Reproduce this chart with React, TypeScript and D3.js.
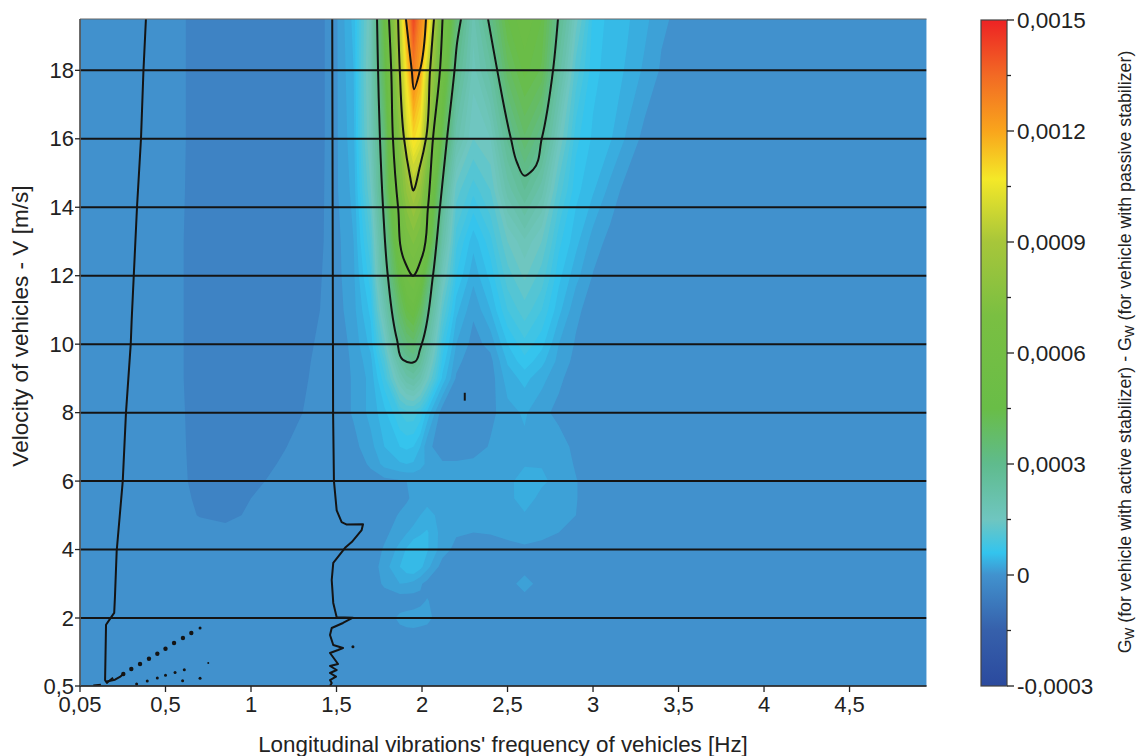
import React from "react";
import * as d3 from "d3";

// frequency columns [Hz] and velocity rows [m/s]
const freqs = [0.05,0.55,0.7,0.85,1.0,1.2,1.35,1.5,1.6,1.7,1.78,1.87,1.91,1.95,1.99,2.03,2.12,2.2,2.3,2.4,2.5,2.6,2.7,2.8,2.9,3.0,3.1,3.2,3.3,3.4,3.6,4.95];
const velocities = [19.5,18,16,14.5,13,12,11,10,9.5,9,8,7,6.5,6,5.5,5,4.5,4,3.5,3,2.5,2,1.5,1,0.5];

// Gw difference in units of 1e-4, one row per velocity
const gwGrid = [
[0,0.08,-0.42,-0.5,-0.5,-0.5,-0.42,0.08,0.45,1.7,4.6,9.5,12.2,14.3,12.8,11.7,6.0,3.6,1.9,3.1,4.5,5.0,4.5,2.9,1.5,0.65,0.5,0.42,0.3,0.13,0,0],
[0,0.08,-0.42,-0.5,-0.5,-0.5,-0.42,0.08,0.4,1.8,4.2,9.0,11,13,12,9.8,5.4,2.9,1.7,2.4,3.9,4.6,4.2,2.4,1.1,0.6,0.48,0.38,0.22,0.08,0,0],
[0,0.08,-0.42,-0.5,-0.5,-0.5,-0.42,0.08,0.35,1.7,3.5,7.5,9.9,11,10.4,8.4,4.2,2.1,1.4,1.6,2.8,3.7,3.0,1.6,0.75,0.52,0.42,0.22,0.05,0,0,0],
[0,0.05,-0.42,-0.5,-0.5,-0.5,-0.4,0.08,0.3,1.4,3.4,6.8,8.1,9,8.2,6.3,2.9,1.3,0.9,1.2,2.1,2.75,2.1,1.1,0.6,0.42,0.2,0.03,0,0,0,0],
[0,0,-0.4,-0.5,-0.5,-0.45,-0.35,0.05,0.25,1.0,2.7,5.5,6.6,7.1,6.5,5.2,2.2,0.9,0.45,0.8,1.4,1.75,1.4,0.75,0.45,0.18,0.05,0,0,0,0,0],
[0,0,-0.4,-0.5,-0.5,-0.45,-0.3,0.05,0.22,0.8,2.5,4.6,5.6,6,5.2,3.9,1.7,0.7,0.3,0.6,1.1,1.45,1.1,0.6,0.3,0.09,0,0,0,0,0,0],
[0,0,-0.4,-0.5,-0.5,-0.42,-0.25,0.03,0.2,0.6,1.9,3.8,4.5,4.8,4.1,3,1.2,0.45,0.13,0.4,0.85,1.1,0.85,0.45,0.14,0.02,0,0,0,0,0,0],
[0,0,-0.4,-0.48,-0.48,-0.38,-0.17,0,0.15,0.45,1.3,3,3.4,3.6,3.1,2.3,0.8,0.25,0.04,0.15,0.55,0.8,0.6,0.25,0.08,0,0,0,0,0,0,0],
[0,0,-0.4,-0.46,-0.46,-0.36,-0.15,0,0.13,0.35,1.0,2.3,2.8,3,2.6,1.9,0.65,0.15,0,0.05,0.42,0.65,0.45,0.2,0.05,0,0,0,0,0,0,0],
[0,0,-0.4,-0.45,-0.45,-0.35,-0.13,0,0.12,0.3,0.8,1.8,2.15,2.3,2,1.5,0.5,0.08,0,0.02,0.32,0.45,0.3,0.14,0,0,0,0,0,0,0,0],
[0,0,-0.35,-0.42,-0.4,-0.3,-0.08,0,0.12,0.3,0.5,0.85,0.95,0.95,0.8,0.5,0,0,0,0.05,0.2,0.27,0.15,0.05,0,0,0,0,0,0,0,0],
[0,0,-0.32,-0.38,-0.3,-0.16,0,0,0.05,0.2,0.4,0.55,0.58,0.55,0.4,0.15,0,0,0,0.12,0.2,0.22,0.22,0.18,0.05,0,0,0,0,0,0,0],
[0,0,-0.3,-0.36,-0.3,-0.1,0,0,0,0.13,0.3,0.38,0.4,0.38,0.3,0.22,0.12,0.12,0.15,0.2,0.22,0.24,0.24,0.2,0.08,0,0,0,0,0,0,0],
[0,0,-0.28,-0.33,-0.22,-0.05,0,0,0,0.02,0.05,0.08,0.1,0.12,0.14,0.16,0.18,0.18,0.18,0.2,0.22,0.3,0.28,0.2,0.11,0,0,0,0,0,0,0],
[0,0,-0.22,-0.3,-0.15,0,0,0,0,0,0,0.03,0.08,0.13,0.17,0.2,0.18,0.17,0.16,0.17,0.2,0.33,0.2,0.17,0.11,0,0,0,0,0,0,0],
[0,0,-0.17,-0.27,-0.08,0,0,0,0,0,0,0.12,0.15,0.18,0.25,0.3,0.2,0.15,0.14,0.15,0.16,0.23,0.18,0.14,0.1,0,0,0,0,0,0,0],
[0,0,0,0,0,0,0,0,0,0,0.06,0.18,0.24,0.3,0.38,0.42,0.18,0.12,0.1,0.11,0.14,0.17,0.15,0.1,0.03,0,0,0,0,0,0,0],
[0,0,0,0,0,0,0,0,0,0,0.12,0.3,0.42,0.55,0.5,0.42,0.17,0.05,0.03,0.03,0.05,0.07,0.04,0,0,0,0,0,0,0,0,0],
[0,0,0,0,0,0,0,0,0,0,0.18,0.4,0.5,0.55,0.45,0.3,0.03,0,0,0,0,0,0,0,0,0,0,0,0,0,0,0],
[0,0,0,0,0,0,0,0,0,0,0.13,0.25,0.24,0.2,0.12,0.05,0,0,0,0,0,0.2,0,0,0,0,0,0,0,0,0,0],
[0,0,0,0,0,0,0,0,0,0,0,0,0,0.02,0.07,0.11,0.02,0,0,0,0,0,0,0,0,0,0,0,0,0,0,0],
[0,0,0,0,0,0,0,0,0,0,0,0.14,0.17,0.18,0.16,0.14,0.02,0,0,0,0,0,0,0,0,0,0,0,0,0,0,0],
[0,0,0,0,0,0,0,0,0,0,0,0,0,0,0,0,0,0,0,0,0,0,0,0,0,0,0,0,0,0,0,0],
[0,0,0,0,0,0,0,0,0,0,0,0,0,0,0,0,0,0,0,0,0,0,0,0,0,0,0,0,0,0,0,0],
[0,0,0,0,0,0,0,0,0,0,0,0,0,0,0,0,0,0,0,0,0,0,0,0,0,0,0,0,0,0,0,0],
];

// filled-band limits, 1e-4
const bandLimits = [-0.75,-0.15,0.1,0.25,0.4,0.55,0.7,0.85,1,1.2,1.4,1.6,1.8,2,2.25,2.5,2.75,3,3.25,3.5,3.75,4,4.25,4.5,4.75,5,5.5,6,6.5,7,7.5,8,8.5,9,9.5,10,10.3,10.6,10.9,11.2,11.5,11.8,12.1,12.4,12.7,13,13.3,13.6,13.9,14.2];

// colour bar
const colorValues = [-3,-1.5,0,0.6,1.5,3,4.5,7,9,10.7,12,13.5,15];
const colorHex = ["#2b4a9e","#3660ab","#4192ce","#33c4ee","#6fc6c0","#5fbb8d","#69bd47","#7abf42","#a7c63a","#f4e828","#f9a51c","#f26a24","#ed2224"];
const barTicks = [-3,0,3,6,9,12,15];
const barTickLabels = ["-0,0003","0","0,0003","0,0006","0,0009","0,0012","0,0015"];
const barMinorTicks = [-1.5,1.5,4.5,7.5,10.5,13.5];

const xTicks = [0.05,0.5,1,1.5,2,2.5,3,3.5,4,4.5];
const xTickLabels = ["0,05","0,5","1","1,5","2","2,5","3","3,5","4","4,5"];
const yTicks = [0.5,2,4,6,8,10,12,14,16,18];
const yTickLabels = ["0,5","2","4","6","8","10","12","14","16","18"];
const gridLines = [2,4,6,8,10,12,14,16,18];

// black isolines as [f, V]
type P = [number, number];
const iso3Main: P[] = [[1.737,19.5],[1.743,18],[1.754,16],[1.772,14],[1.8,12],[1.854,10.13],[1.889,9.54],[1.942,9.46],[1.959,9.49],[1.988,9.84],[2.006,10.13],[2.064,12],[2.105,14],[2.146,16],[2.19,18],[2.205,18.8],[2.228,19.5]];
const iso6Main: P[] = [[1.807,19.5],[1.82,18],[1.83,16],[1.86,14],[1.9,12.4],[1.945,12],[2.0,12.55],[2.035,14],[2.064,16],[2.105,18],[2.12,19.5]];
const iso9Main: P[] = [[1.86,19.5],[1.87,18],[1.895,16],[1.93,14.9],[1.947,14.5],[1.988,15.2],[2.023,16],[2.047,18],[2.07,19.5]];
const iso12Main: P[] = [[1.906,19.5],[1.94,18],[1.953,17.45],[1.988,18],[2.023,19.5]];
const iso3Second: P[] = [[2.386,19.5],[2.44,18],[2.52,16],[2.556,15.3],[2.6,14.92],[2.65,15.1],[2.7,16],[2.766,18],[2.795,19.5]];
const zeroLeft: P[] = [[0.397,19.5],[0.384,18],[0.371,16],[0.35,14],[0.322,10.71],[0.317,10],[0.292,8],[0.275,6],[0.243,3.95],[0.234,2.62],[0.23,2.15],[0.208,1.98],[0.187,1.85],[0.182,0.63],[0.192,0.57],[0.224,0.68]];
const zeroDiagonal: P[] = [[0.19,0.6],[0.234,0.64],[0.26,0.7],[0.278,0.765]];
const zeroRight: P[] = [[1.475,19.5],[1.48,8],[1.485,6],[1.501,5.146],[1.53,4.8],[1.56,4.73],[1.655,4.74],[1.647,4.57],[1.589,4.22],[1.55,4.05],[1.481,3.61],[1.472,3.11],[1.481,2.44],[1.501,2.02],[1.596,2.01],[1.538,1.89],[1.472,1.78],[1.462,1.625],[1.481,1.405],[1.538,1.338],[1.509,1.294],[1.462,1.228],[1.509,0.985],[1.462,0.941],[1.501,0.853],[1.462,0.787],[1.497,0.705],[1.462,0.632],[1.472,0.566],[1.462,0.5]];
const zeroIsland: P[] = [[2.25,8.58],[2.25,8.35]];
const bottomDash: P[] = [[0.12,0.51],[0.16,0.53]];
const smoothLines = [iso3Main, iso6Main, iso9Main, iso12Main, iso3Second];
const roughLines = [zeroLeft, zeroDiagonal, zeroRight, zeroIsland, bottomDash];

// dotted isoline fragments as [f, V]
const dotsLarge: P[] = [[0.651,1.669],[0.602,1.559],[0.55,1.449],[0.5,1.323],[0.457,1.2125],[0.413,1.102],[0.366,0.985],[0.32,0.875],[0.278,0.765]];
const dotsSmall: P[] = [[0.702,1.78],[0.61,0.86],[0.556,0.8],[0.5,0.736],[0.457,0.676],[0.404,0.61],[0.348,0.544],[0.702,0.67],[0.6,0.617],[1.596,1.367]];
const dotsTiny: P[] = [[0.75,1.007]];

const FONT = "'Liberation Sans', Arial, sans-serif";
const INK = "#222";

const x = d3.scaleLinear().domain([0.05, 0.5, 4.95]).range([80, 165.5, 926.5]);
const y = d3.scaleLinear().domain([0.5, 2, 19.5]).range([686, 618, 19]);
const barY = d3.scaleLinear().domain([-3, 15]).range([686, 20]);
const color = d3.scaleLinear<string>().domain(colorValues).range(colorHex).interpolate(d3.interpolateRgb);

const colF = d3.scaleLinear().domain(freqs.map((_, i) => i + 0.5)).range(freqs).clamp(true);
const rowV = d3.scaleLinear().domain(velocities.map((_, i) => i + 0.5)).range(velocities).clamp(true);

const flat = gwGrid.flat();
const bands = d3.contours().size([freqs.length, velocities.length]).thresholds(bandLimits)(flat);
const project = d3.geoTransform({
  point(this: any, cx: number, cy: number) {
    this.stream.point(x(colF(cx)), y(rowV(cy)));
  },
});
const bandPath = d3.geoPath(project);
const roughPath = d3.line<P>().x((d) => x(d[0])).y((d) => y(d[1]));
const smoothPath = d3.line<P>().x((d) => x(d[0])).y((d) => y(d[1])).curve(d3.curveCatmullRom.alpha(1));

export default function App() {
  const gradId = "gwBar";
  return (
    <svg width={1140} height={756} style={{ position: "absolute", left: 0, top: 0, display: "block", background: "#fff" }} fontFamily={FONT}>
      <defs>
        <clipPath id="plotClip">
          <rect x={80} y={19} width={846.5} height={667} />
        </clipPath>
        <linearGradient id={gradId} x1="0" x2="0" y1="1" y2="0">
          {colorValues.map((v, i) => (
            <stop key={v} offset={(v + 3) / 18} stopColor={colorHex[i]} />
          ))}
        </linearGradient>
      </defs>

      <g clipPath="url(#plotClip)">
        {bands.map((b, i) => {
          const hi = i + 1 < bandLimits.length ? bandLimits[i + 1] : b.value + 0.3;
          return <path key={i} d={bandPath(b as any) || ""} fill={color((b.value + hi) / 2)} />;
        })}
        {gridLines.map((v) => (
          <line key={v} x1={80} x2={926.5} y1={y(v)} y2={y(v)} stroke="#141414" strokeWidth={2} />
        ))}
        {smoothLines.map((l, i) => (
          <path key={i} d={smoothPath(l) || ""} fill="none" stroke="#141414" strokeWidth={2} strokeLinejoin="round" />
        ))}
        {roughLines.map((l, i) => (
          <path key={i} d={roughPath(l) || ""} fill="none" stroke="#141414" strokeWidth={2} strokeLinejoin="round" />
        ))}
        {dotsLarge.map((d, i) => (
          <circle key={i} cx={x(d[0])} cy={y(d[1])} r={2.2} fill="#141414" />
        ))}
        {dotsSmall.map((d, i) => (
          <circle key={i} cx={x(d[0])} cy={y(d[1])} r={1.5} fill="#141414" />
        ))}
        {dotsTiny.map((d, i) => (
          <circle key={i} cx={x(d[0])} cy={y(d[1])} r={1} fill="#141414" />
        ))}
      </g>

      <path d="M926.5,19H80V686H926.5" fill="none" stroke="#666" strokeWidth={1} />
      <line x1={80} x2={926.5} y1={686} y2={686} stroke="#222" strokeWidth={1.5} />
      <line x1={80} x2={80} y1={19} y2={686} stroke="#555" strokeWidth={1.5} />

      {xTicks.map((v, i) => (
        <g key={v}>
          <line x1={x(v)} x2={x(v)} y1={686} y2={692} stroke={INK} strokeWidth={1.3} />
          <text x={x(v)} y={711.5} textAnchor="middle" fontSize={22} fill={INK}>{xTickLabels[i]}</text>
        </g>
      ))}
      {yTicks.map((v, i) => (
        <g key={v}>
          <line x1={75} x2={80} y1={y(v)} y2={y(v)} stroke={INK} strokeWidth={1.3} />
          <text x={74} y={y(v) + 7.5} textAnchor="end" fontSize={22} fill={INK}>{yTickLabels[i]}</text>
        </g>
      ))}

      <text x={503} y={752} textAnchor="middle" fontSize={22.4} fill={INK}>Longitudinal vibrations' frequency of vehicles [Hz]</text>
      <text transform="translate(28,326) rotate(-90)" textAnchor="middle" fontSize={22.6} fill={INK}>Velocity of vehicles - V [m/s]</text>

      <rect x={981} y={20} width={26} height={666} fill={`url(#${gradId})`} stroke="#444" strokeWidth={1.2} />
      {barTicks.map((v, i) => (
        <g key={v}>
          <line x1={1007} x2={1014} y1={barY(v)} y2={barY(v)} stroke={INK} strokeWidth={1.3} />
          <text x={1017} y={barY(v) + 8} fontSize={22.5} fill={INK}>{barTickLabels[i]}</text>
        </g>
      ))}
      {barMinorTicks.map((v) => (
        <line key={v} x1={1007} x2={1011} y1={barY(v)} y2={barY(v)} stroke={INK} strokeWidth={1.3} />
      ))}

      <text transform="translate(1131,352) rotate(-90)" textAnchor="middle" fontSize={17.8} fill={INK}>
        G<tspan fontSize={12.5} dy={3}>W</tspan>
        <tspan dy={-3}> (for vehicle with active stabilizer) - G</tspan>
        <tspan fontSize={12.5} dy={3}>W</tspan>
        <tspan dy={-3}> (for vehicle with passive stabilizer)</tspan>
      </text>
    </svg>
  );
}
